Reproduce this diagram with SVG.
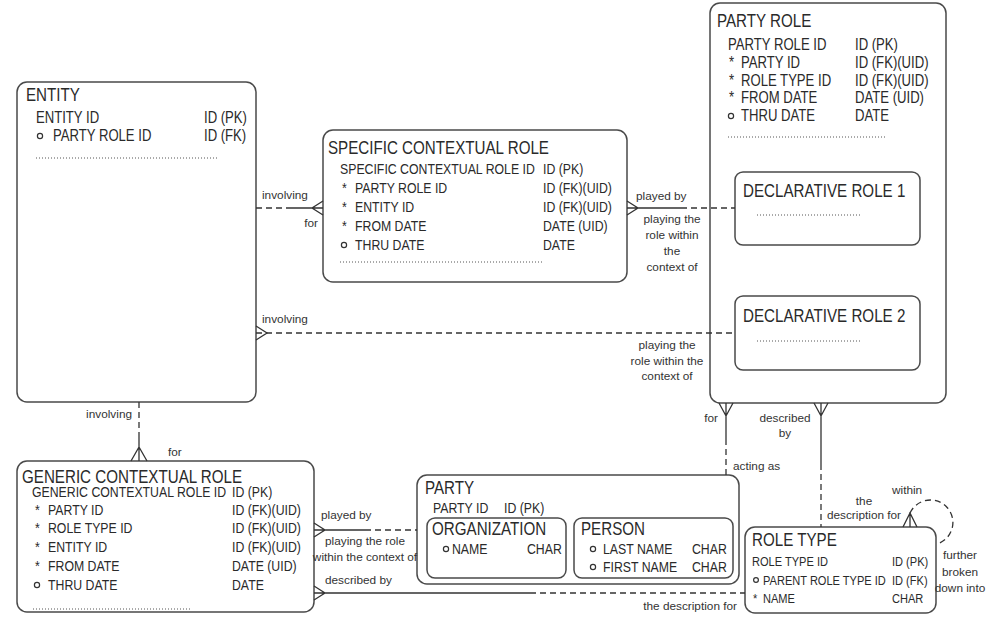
<svg xmlns="http://www.w3.org/2000/svg" width="1000" height="625" viewBox="0 0 1000 625">
<style>
text{font-family:'Liberation Sans',Arial,sans-serif;fill:#2a2a2a;transform-box:fill-box;transform-origin:0 0;transform:scaleX(.82)}
.t{font-size:18.5px}
.r{font-size:15px}
.rb{font-size:16px}
.rs{font-size:13.5px}
.l{font-size:11.8px;fill:#333;transform:none}
.m{text-anchor:middle}
.e{text-anchor:end}
.box{fill:#fff;stroke:#4a4a4a;stroke-width:1.5}
.dot{fill:none;stroke:#555;stroke-width:1;stroke-dasharray:1 2}
.o{fill:none;stroke:#333;stroke-width:1.2}
.s{fill:none;stroke:#333;stroke-width:1.3}
.d{fill:none;stroke:#333;stroke-width:1.3;stroke-dasharray:6 4}
</style>
<rect width="1000" height="625" fill="#fff"/>

<g id="entity">
<rect class="box" x="17" y="82" width="239" height="320" rx="10"/>
<text class="t" x="26" y="101.5">ENTITY</text>
<text class="rb" x="36" y="123">ENTITY ID</text><text class="rb" x="204" y="123">ID (PK)</text>
<circle class="o" cx="40" cy="136" r="2.6"/>
<text class="rb" x="53" y="141.5">PARTY ROLE ID</text><text class="rb" x="204" y="141.5">ID (FK)</text>
<path class="dot" d="M36,158H217"/>
</g>

<g id="specific-contextual-role">
<rect class="box" x="323" y="130" width="304" height="152" rx="10"/>
<text class="t" x="328" y="154">SPECIFIC CONTEXTUAL ROLE</text>
<text class="r" x="340" y="174">SPECIFIC CONTEXTUAL ROLE ID</text><text class="r" x="543" y="174">ID (PK)</text>
<text class="r" x="342" y="193">*</text><text class="r" x="355" y="193">PARTY ROLE ID</text><text class="r" x="543" y="193">ID (FK)(UID)</text>
<text class="r" x="342" y="212">*</text><text class="r" x="355" y="212">ENTITY ID</text><text class="r" x="543" y="212">ID (FK)(UID)</text>
<text class="r" x="342" y="231">*</text><text class="r" x="355" y="231">FROM DATE</text><text class="r" x="543" y="231">DATE (UID)</text>
<circle class="o" cx="344" cy="245" r="2.6"/>
<text class="r" x="355" y="250">THRU DATE</text><text class="r" x="543" y="250">DATE</text>
<path class="dot" d="M340,262H543"/>
</g>

<g id="party-role">
<rect class="box" x="710" y="3" width="236" height="400" rx="10"/>
<text class="t" x="717" y="27">PARTY ROLE</text>
<text class="rb" x="728" y="50">PARTY ROLE ID</text><text class="rb" x="855" y="50">ID (PK)</text>
<text class="rb" x="729" y="68">*</text><text class="rb" x="741" y="68">PARTY ID</text><text class="rb" x="855" y="68">ID (FK)(UID)</text>
<text class="rb" x="729" y="86">*</text><text class="rb" x="741" y="86">ROLE TYPE ID</text><text class="rb" x="855" y="86">ID (FK)(UID)</text>
<text class="rb" x="729" y="103">*</text><text class="rb" x="741" y="103">FROM DATE</text><text class="rb" x="855" y="103">DATE (UID)</text>
<circle class="o" cx="731" cy="116" r="2.6"/>
<text class="rb" x="741" y="121">THRU DATE</text><text class="rb" x="855" y="121">DATE</text>
<path class="dot" d="M728,137H887"/>
</g>

<g id="declarative-role-1">
<rect class="box" x="735" y="172" width="185" height="73" rx="8"/>
<text class="t" x="743" y="197">DECLARATIVE ROLE 1</text>
<path class="dot" d="M757,215H862"/>
</g>

<g id="declarative-role-2">
<rect class="box" x="735" y="296" width="185" height="74" rx="8"/>
<text class="t" x="743" y="322">DECLARATIVE ROLE 2</text>
<path class="dot" d="M757,341H862"/>
</g>

<g id="generic-contextual-role">
<rect class="box" x="17" y="461" width="297" height="151" rx="10"/>
<text class="t" x="22" y="483">GENERIC CONTEXTUAL ROLE</text>
<text class="r" x="32" y="497.5">GENERIC CONTEXTUAL ROLE ID</text><text class="r" x="232" y="497.5">ID (PK)</text>
<text class="r" x="35" y="515">*</text><text class="r" x="48" y="515">PARTY ID</text><text class="r" x="232" y="515">ID (FK)(UID)</text>
<text class="r" x="35" y="533">*</text><text class="r" x="48" y="533">ROLE TYPE ID</text><text class="r" x="232" y="533">ID (FK)(UID)</text>
<text class="r" x="35" y="552">*</text><text class="r" x="48" y="552">ENTITY ID</text><text class="r" x="232" y="552">ID (FK)(UID)</text>
<text class="r" x="35" y="571">*</text><text class="r" x="48" y="571">FROM DATE</text><text class="r" x="232" y="571">DATE (UID)</text>
<circle class="o" cx="37" cy="585" r="2.6"/>
<text class="r" x="48" y="590">THRU DATE</text><text class="r" x="232" y="590">DATE</text>
<path class="dot" d="M33,609H190"/>
</g>

<g id="party">
<rect class="box" x="417" y="475" width="322" height="109" rx="10"/>
<text class="t" x="425" y="494">PARTY</text>
<text class="r" x="433" y="513">PARTY ID</text><text class="r" x="504" y="513">ID (PK)</text>
</g>

<g id="organization">
<rect class="box" x="427" y="518" width="139" height="60" rx="8"/>
<text class="t" x="432" y="535">ORGANIZATION</text>
<circle class="o" cx="446" cy="549" r="2.6"/>
<text class="r" x="452" y="554">NAME</text><text class="r" x="527" y="554">CHAR</text>
</g>

<g id="person">
<rect class="box" x="574" y="518" width="159" height="60" rx="8"/>
<text class="t" x="581" y="535">PERSON</text>
<circle class="o" cx="593" cy="549" r="2.6"/>
<text class="r" x="603" y="554">LAST NAME</text><text class="r" x="692" y="554">CHAR</text>
<circle class="o" cx="593" cy="567" r="2.6"/>
<text class="r" x="603" y="572">FIRST NAME</text><text class="r" x="692" y="572">CHAR</text>
</g>

<g id="role-type">
<rect class="box" x="745" y="527" width="191" height="86" rx="10"/>
<text class="t" x="752" y="546">ROLE TYPE</text>
<text class="rs" x="752" y="566">ROLE TYPE ID</text><text class="rs" x="892" y="566">ID (PK)</text>
<circle class="o" cx="756" cy="580" r="2.4"/>
<text class="rs" x="763" y="585">PARENT ROLE TYPE ID</text><text class="rs" x="892" y="585">ID (FK)</text>
<text class="rs" x="753" y="603">*</text><text class="rs" x="763" y="603">NAME</text><text class="rs" x="892" y="603">CHAR</text>
</g>

<g id="connectors">
<path class="d" d="M256,208H290"/><path class="s" d="M290,208H323M323,201L312,208L323,215"/>
<text class="l" x="262" y="199">involving</text>
<text class="l e" x="318" y="227">for</text>
<path class="s" d="M627,208H681M627,201L638,208L627,215"/><path class="d" d="M681,208H735"/>
<text class="l" x="636" y="200">played by</text>
<text class="l m" x="672" y="223">playing the</text>
<text class="l m" x="672" y="239">role within</text>
<text class="l m" x="672" y="255">the</text>
<text class="l m" x="672" y="271">context of</text>
<path class="s" d="M256,326L267,333L256,340"/><path class="d" d="M256,333H735"/>
<text class="l" x="262" y="323">involving</text>
<text class="l m" x="667" y="349">playing the</text>
<text class="l m" x="667" y="365">role within the</text>
<text class="l m" x="667" y="380">context of</text>
<path class="d" d="M139,402V432"/><path class="s" d="M139,432V461M131,461L139,447L147,461"/>
<text class="l e" x="132" y="418">involving</text>
<text class="l" x="168" y="456">for</text>
<path class="s" d="M314,530H365M314,523L325,530L314,537"/><path class="d" d="M365,530H417"/>
<text class="l" x="321" y="519">played by</text>
<text class="l m" x="365" y="545">playing the role</text>
<text class="l m" x="365" y="561">within the context of</text>
<path class="s" d="M314,593H530M314,586L325,593L314,600"/><path class="d" d="M530,593H745"/>
<text class="l" x="325" y="584">described by</text>
<text class="l e" x="737" y="610">the description for</text>
<path class="s" d="M726,403V439M719,403L726,416L733,403"/><path class="d" d="M726,439V475"/>
<text class="l e" x="718" y="422">for</text>
<text class="l" x="733" y="470">acting as</text>
<path class="s" d="M821,403V464M814,403L821,416L828,403"/><path class="d" d="M821,464V527"/>
<text class="l m" x="785" y="422">described</text>
<text class="l m" x="785" y="437">by</text>
<path class="s" d="M903,527L910,513L917,527M910,513V527"/>
<path class="d" d="M910,513A22.5,22.5 0 1 1 937,544"/>
<text class="l" x="892" y="494">within</text>
<text class="l m" x="864" y="505">the</text>
<text class="l m" x="864" y="519">description for</text>
<text class="l m" x="960" y="559">further</text>
<text class="l m" x="960" y="576">broken</text>
<text class="l m" x="960" y="592">down into</text>
</g>
</svg>
